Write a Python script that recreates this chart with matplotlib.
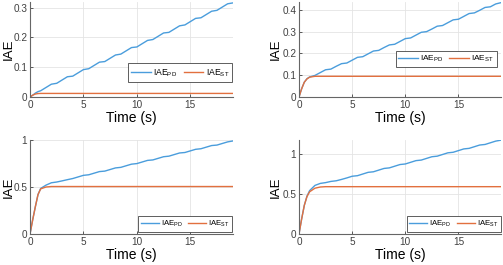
import matplotlib.pyplot as plt
from matplotlib.ticker import FormatStrFormatter

plt.rcParams['font.family'] = ['Liberation Sans', 'DejaVu Sans']
plt.rcParams['mathtext.fontset'] = 'custom'
plt.rcParams['mathtext.rm'] = 'Liberation Sans'

# time samples (s)
t = [0, 0.25, 0.5, 0.75, 1, 1.5, 2, 2.5, 3, 3.5, 4, 4.5, 5, 5.5, 6, 6.5, 7, 7.5,
     8, 8.5, 9, 9.5, 10, 10.5, 11, 11.5, 12, 12.5, 13, 13.5, 14, 14.5, 15, 15.5,
     16, 16.5, 17, 17.5, 18, 18.5, 19]

# panel 1 (top left)
pd1 = [0, 0.006, 0.013, 0.018, 0.021, 0.032, 0.043, 0.046, 0.057, 0.068, 0.070,
       0.081, 0.092, 0.095, 0.106, 0.117, 0.119, 0.130, 0.141, 0.144, 0.155,
       0.166, 0.168, 0.179, 0.190, 0.193, 0.204, 0.215, 0.217, 0.228, 0.239,
       0.242, 0.253, 0.264, 0.266, 0.277, 0.288, 0.291, 0.302, 0.313, 0.316]
st1 = [0, 0.006, 0.010, 0.0115] + [0.012] * 37

# panel 2 (top right)
pd2 = [0, 0.038, 0.068, 0.084, 0.092, 0.099, 0.112, 0.125, 0.128, 0.141, 0.153,
       0.156, 0.169, 0.182, 0.185, 0.198, 0.211, 0.214, 0.227, 0.239, 0.242,
       0.255, 0.268, 0.271, 0.284, 0.297, 0.300, 0.312, 0.325, 0.328, 0.341,
       0.354, 0.357, 0.370, 0.383, 0.386, 0.398, 0.411, 0.414, 0.427, 0.433]
st2 = [0, 0.038, 0.068, 0.083, 0.091] + [0.095] * 36

# panel 3 (bottom left)
pd3 = [0, 0.15, 0.29, 0.42, 0.485, 0.52, 0.545, 0.553, 0.565, 0.578, 0.590,
       0.607, 0.624, 0.630, 0.647, 0.664, 0.669, 0.686, 0.703, 0.709, 0.726,
       0.743, 0.749, 0.766, 0.783, 0.788, 0.805, 0.822, 0.828, 0.845, 0.862,
       0.867, 0.884, 0.901, 0.907, 0.924, 0.941, 0.946, 0.963, 0.980, 0.990]
st3 = [0, 0.15, 0.29, 0.42, 0.48, 0.50] + [0.505] * 35

# panel 4 (bottom right)
pd4 = [0, 0.19, 0.36, 0.475, 0.545, 0.61, 0.635, 0.645, 0.660, 0.668, 0.685,
       0.704, 0.725, 0.732, 0.753, 0.774, 0.781, 0.802, 0.823, 0.830, 0.851,
       0.872, 0.879, 0.900, 0.921, 0.928, 0.949, 0.970, 0.977, 0.998, 1.019,
       1.026, 1.047, 1.068, 1.075, 1.096, 1.117, 1.124, 1.145, 1.166, 1.178]
st4 = [0, 0.19, 0.36, 0.47, 0.53, 0.575, 0.59] + [0.594] * 34

panels = [
    (pd1, st1, [0, 0.1, 0.2, 0.3], 0.319, [30, 2, 203, 95], (0.997, 0.158), 6.2, -0.077),
    (pd2, st2, [0, 0.1, 0.2, 0.3, 0.4], 0.436, [299, 2, 202, 95], (0.98, 0.316), 6.0, -0.083),
    (pd3, st3, [0, 0.5, 1], 1.0, [30, 140, 203, 94], (0.997, 0.02), 5.6, -0.077),
    (pd4, st4, [0, 0.5, 1], 1.18, [299, 140, 202, 94], (1.0, 0.02), 5.6, -0.083),
]

W, H = 503, 265
fig = plt.figure(figsize=(W / 100, H / 100), dpi=100)

blue = '#4a9ddc'
orange = '#e2703f'

for pd, st, yticks, ytop, (x, y, w, h), anchor, lfs, ylx in panels:
    ax = fig.add_axes([x / W, 1 - (y + h) / H, w / W, h / H])
    ax.plot(t, pd, color=blue, lw=1.0, label=r'IAE$_{\mathrm{PD}}$')
    ax.plot(t, st, color=orange, lw=1.0, label=r'IAE$_{\mathrm{ST}}$')
    ax.set_xlim(0, 19)
    ax.set_ylim(0, ytop)
    ax.set_xticks([0, 5, 10, 15])
    ax.set_yticks(yticks)
    ax.yaxis.set_major_formatter(FormatStrFormatter('%g'))
    ax.grid(True, color='#e4e4e4', lw=0.6)
    ax.set_axisbelow(True)
    for s in ['top', 'right']:
        ax.spines[s].set_visible(False)
    for s in ['left', 'bottom']:
        ax.spines[s].set_color('#666666')
        ax.spines[s].set_linewidth(0.8)
    ax.tick_params(direction='in', length=2, width=0.6, labelsize=7.2,
                   colors='#404040', pad=2)
    ax.set_xlabel('Time (s)', fontsize=10, labelpad=1)
    ax.set_ylabel('IAE', fontsize=9.5)
    ax.yaxis.set_label_coords(ylx, 0.5)
    leg = ax.legend(loc='lower right', bbox_to_anchor=anchor, ncol=2,
                    fontsize=lfs, frameon=True, fancybox=False,
                    handlelength=2.3, handletextpad=0.3, columnspacing=0.7,
                    borderpad=0.35, borderaxespad=0)
    leg.get_frame().set_edgecolor('#444444')
    leg.get_frame().set_linewidth(0.6)
    leg.get_frame().set_alpha(1)

fig.savefig('out.png', dpi=100)
